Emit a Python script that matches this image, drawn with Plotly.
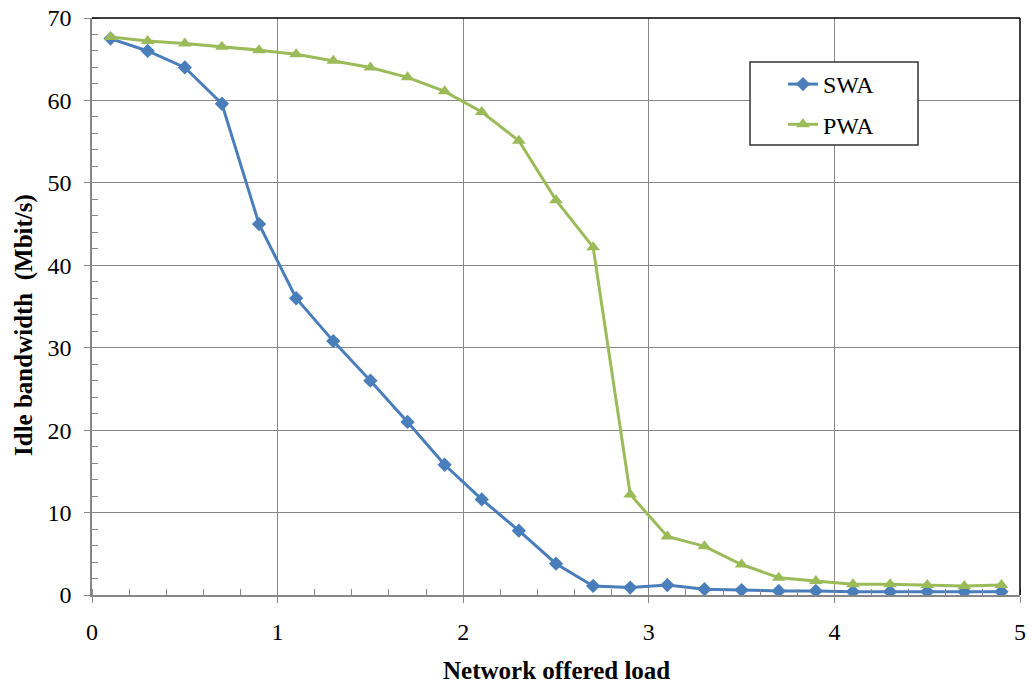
import plotly.graph_objects as go

load = [0.1, 0.3, 0.5, 0.7, 0.9, 1.1, 1.3, 1.5, 1.7, 1.9, 2.1, 2.3, 2.5,
        2.7, 2.9, 3.1, 3.3, 3.5, 3.7, 3.9, 4.1, 4.3, 4.5, 4.7, 4.9]
swa = [67.5, 66.0, 64.0, 59.6, 45.0, 36.0, 30.8, 26.0, 21.0, 15.8, 11.6, 7.8, 3.8,
       1.1, 0.9, 1.2, 0.7, 0.6, 0.5, 0.5, 0.4, 0.4, 0.4, 0.4, 0.4]
pwa = [67.7, 67.2, 66.9, 66.5, 66.1, 65.6, 64.8, 64.0, 62.8, 61.1, 58.6, 55.1, 47.9,
       42.2, 12.2, 7.1, 5.9, 3.7, 2.1, 1.7, 1.3, 1.3, 1.2, 1.1, 1.2]

font = "Liberation Serif"
fig = go.Figure()
fig.add_trace(go.Scatter(x=load, y=swa, name="SWA", mode="lines+markers",
                         line=dict(color="#4A7EBB", width=3),
                         marker=dict(symbol="diamond", size=11, color="#4A7EBB"),
                         legendgroup="a"))
fig.add_trace(go.Scatter(x=load, y=pwa, name="PWA", mode="lines+markers",
                         line=dict(color="#9BBB59", width=3),
                         marker=dict(symbol="triangle-up", size=12, color="#9BBB59"),
                         legendgroup="b"))

axis_common = dict(showline=True, linecolor="#868686", linewidth=1.5,
                   showgrid=True, gridcolor="#878787", gridwidth=1,
                   ticks="outside", ticklen=6, tickcolor="#868686",
                   tickfont=dict(family=font, size=24, color="black"),
                   zeroline=False, automargin=False, ticklabeloverflow="allow")
fig.update_xaxes(range=[0, 5], dtick=1, tick0=0, ticklabelstandoff=8,
                 minor=dict(dtick=0.2, ticks="inside", ticklen=6, tickcolor="#868686", showgrid=False),
                 **axis_common)
fig.update_yaxes(range=[0, 70], dtick=10, tick0=0, ticklabelstandoff=8,
                 minor=dict(dtick=2, ticks="inside", ticklen=6, tickcolor="#868686", showgrid=False),
                 **axis_common)

fig.add_shape(type="line", xref="paper", yref="paper", x0=0, x1=1, y0=1, y1=1,
              line=dict(color="black", width=1.5))
fig.add_shape(type="line", xref="paper", yref="paper", x0=1, x1=1, y0=0, y1=1,
              line=dict(color="black", width=1.5))
# legend frame
fig.add_shape(type="rect", xref="paper", yref="paper",
              x0=(750 - 92) / 928, x1=(918 - 92) / 928,
              y0=(595 - 145) / 577, y1=(595 - 62) / 577,
              line=dict(color="#333333", width=1.5), fillcolor="white", layer="above")

fig.add_annotation(text="<b>Network offered load</b>", xref="paper", yref="paper",
                   x=(556 - 92) / 928, y=(595 - 670) / 577, showarrow=False,
                   xanchor="center", yanchor="middle",
                   font=dict(family=font, size=25, color="black"))
fig.add_annotation(text="<b>Idle bandwidth  (Mbit/s)</b>", xref="paper", yref="paper",
                   x=(24 - 92) / 928, y=(595 - 325) / 577, showarrow=False, textangle=-90,
                   xanchor="center", yanchor="middle",
                   font=dict(family=font, size=25, color="black"))

fig.update_layout(
    width=1033, height=684,
    margin=dict(l=92, r=13, t=18, b=89),
    plot_bgcolor="white", paper_bgcolor="white",
    font=dict(family=font, size=20, color="black"),
    legend=dict(x=(783 - 92) / 928, y=(595 - 62) / 577, xanchor="left", yanchor="top",
                borderwidth=0, bgcolor="rgba(0,0,0,0)",
                font=dict(family=font, size=24, color="black"),
                tracegroupgap=6, itemwidth=30),
    showlegend=True,
)
fig.write_html("out.html", config={"displayModeBar": False},
               post_script="document.body.style.margin='0';document.body.style.overflow='hidden';")
